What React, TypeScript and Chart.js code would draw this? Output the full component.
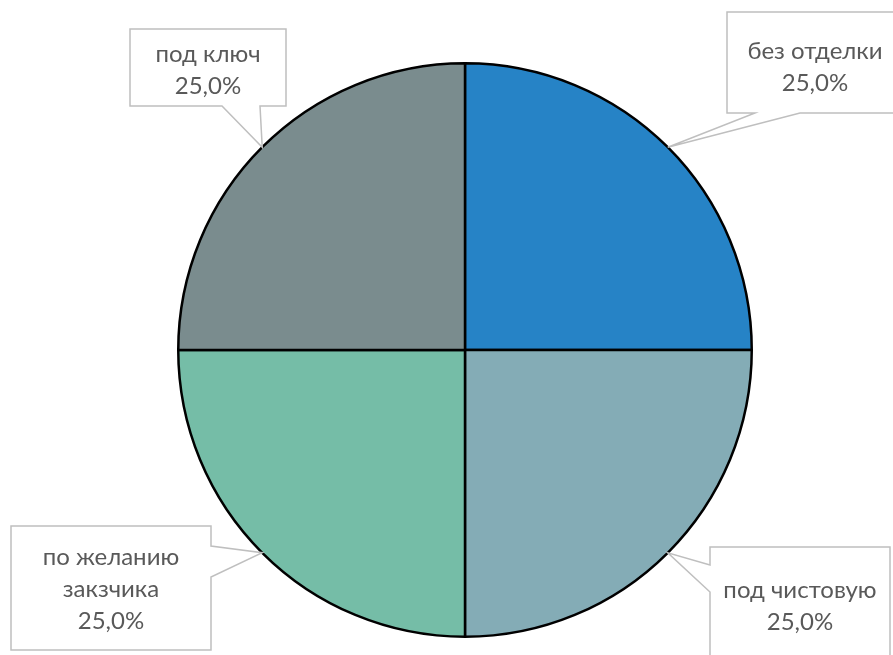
import React, { useEffect, useRef } from "react";
import { Chart, registerables } from "chart.js";

Chart.register(...registerables);

const categories: string[][] = [
  ["без отделки"],
  ["под чистовую"],
  ["по желанию", "закзчика"],
  ["под ключ"],
];
const values: number[] = [25, 25, 25, 25];
const colors: string[] = ["#2683C6", "#84ACB6", "#75BDA7", "#7A8C8E"];

// callout box layout (per slice): rect, tail side, tail base range, text centre
const callouts = [
  { x: 727, y: 12, w: 176, h: 101, side: "bottom", b1: 755, b2: 800, tx: 815, ty: 51 },
  { x: 710, y: 547, w: 180, h: 120, side: "left", b1: 565, b2: 592, tx: 800, ty: 590 },
  { x: 11, y: 526, w: 200, h: 124, side: "right", b1: 546, b2: 577, tx: 111, ty: 557 },
  { x: 130, y: 29, w: 156, h: 77, side: "bottom", b1: 222, b2: 260, tx: 208, ty: 54 },
];

const fmt = (v: number, total: number) =>
  ((v / total) * 100).toFixed(1).replace(".", ",") + "%";

const calloutPlugin = {
  id: "callouts",
  afterDraw(chart: any) {
    const ctx = chart.ctx;
    const meta = chart.getDatasetMeta(0);
    const total = values.reduce((a, b) => a + b, 0);
    meta.data.forEach((arc: any, i: number) => {
      const c = callouts[i];
      const p = arc.getProps(["x", "y", "startAngle", "endAngle", "outerRadius"], true);
      const mid = (p.startAngle + p.endAngle) / 2;
      const tipX = p.x + Math.cos(mid) * p.outerRadius;
      const tipY = p.y + Math.sin(mid) * p.outerRadius;
      const L = c.x, T = c.y, R = c.x + c.w, B = c.y + c.h;
      ctx.save();
      ctx.beginPath();
      ctx.moveTo(L, T);
      ctx.lineTo(R, T);
      if (c.side === "right") {
        ctx.lineTo(R, c.b1);
        ctx.lineTo(tipX, tipY);
        ctx.lineTo(R, c.b2);
      }
      ctx.lineTo(R, B);
      if (c.side === "bottom") {
        ctx.lineTo(c.b2, B);
        ctx.lineTo(tipX, tipY);
        ctx.lineTo(c.b1, B);
      }
      ctx.lineTo(L, B);
      if (c.side === "left") {
        ctx.lineTo(L, c.b2);
        ctx.lineTo(tipX, tipY);
        ctx.lineTo(L, c.b1);
      }
      ctx.closePath();
      ctx.fillStyle = "#FFFFFF";
      ctx.fill();
      ctx.strokeStyle = "#BFBFBF";
      ctx.lineWidth = 1.5;
      ctx.stroke();
      const lines = [...categories[i], fmt(values[i], total)];
      ctx.fillStyle = "#595959";
      ctx.font = "24px Lato, 'Noto Sans', sans-serif";
      ctx.textAlign = "center";
      ctx.textBaseline = "middle";
      lines.forEach((ln, k) => {
        ctx.fillText(ln, c.tx, c.ty + k * 32);
      });
      ctx.restore();
    });
  },
};

export default function App() {
  const ref = useRef<HTMLCanvasElement>(null);
  useEffect(() => {
    if (!ref.current) return;
    const chart = new Chart(ref.current, {
      type: "pie",
      data: {
        labels: categories.map((c) => c.join(" ")),
        datasets: [
          {
            data: values,
            backgroundColor: colors,
            borderColor: "#000000",
            borderWidth: 2.5,
          },
        ],
      },
      options: {
        animation: false,
        responsive: false,
        maintainAspectRatio: false,
        layout: { padding: { left: 177, right: 140, top: 62, bottom: 17 } },
        plugins: {
          legend: { display: false },
          tooltip: { enabled: false },
          title: { display: false },
        },
      },
      plugins: [calloutPlugin],
    });
    return () => chart.destroy();
  }, []);
  return (
    <div style={{ position: "fixed", left: 0, top: 0, width: 893, height: 655, background: "#fff" }}>
      <canvas ref={ref} width={893} height={655} style={{ width: 893, height: 655 }} />
    </div>
  );
}
